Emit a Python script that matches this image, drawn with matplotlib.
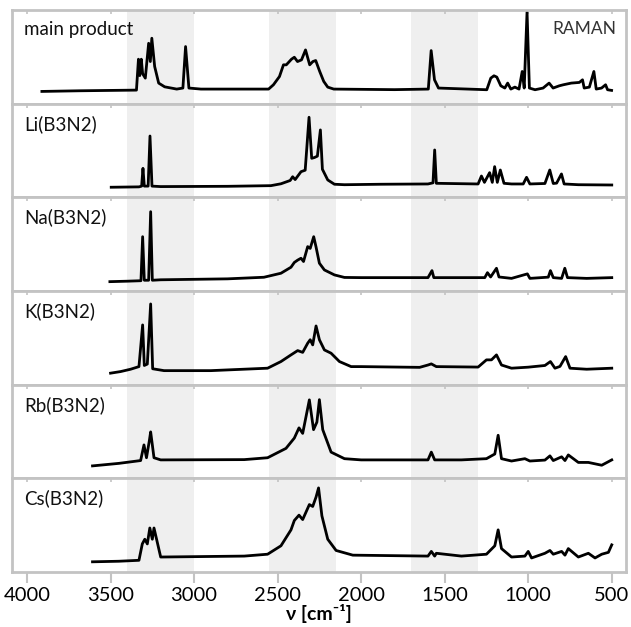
import matplotlib
matplotlib.use("Agg")
import matplotlib.pyplot as plt
import numpy as np

plt.rcParams['font.family'] = ['Lato', 'DejaVu Sans']

# wavenumbers (cm-1) and relative intensities (0-100 of panel height)
main_nu = [3911, 3682, 3345, 3333, 3325, 3316, 3308, 3292, 3272, 3262, 3253, 3236, 3212, 3176, 3104,
           3067, 3051, 3031, 2959, 2554, 2525, 2489, 2465, 2448, 2417, 2400, 2381, 2357, 2333, 2308,
           2289, 2272, 2248, 2224, 2200, 2164, 1800, 1598, 1581, 1561, 1537, 1248, 1224, 1205, 1188,
           1164, 1140, 1123, 1104, 1080, 1055, 1036, 1024, 1007, 993, 959, 911, 875, 851, 814, 790,
           742, 694, 675, 665, 634, 607, 593, 561, 537, 525, 501]
main_int = [13.1, 13.8, 14.5, 47.5, 30.0, 47.5, 32.0, 27.3, 64.5, 45.0, 69.9, 39.7, 22.0, 18.0, 15.6,
            16.7, 61.0, 16.7, 15.6, 15.6, 20.2, 29.0, 41.5, 41.5, 47.5, 49.6, 45.0, 46.8, 57.4, 41.5,
            45.0, 46.1, 34.4, 23.8, 17.7, 15.6, 15.0, 15.6, 56.7, 25.5, 16.7, 14.9, 27.3, 29.8, 28.4,
            19.1, 16.7, 22.0, 15.6, 17.7, 15.6, 34.4, 16.7, 98.2, 16.7, 14.9, 16.7, 22.0, 16.7, 19.1,
            20.2, 22.0, 22.7, 25.5, 16.7, 17.7, 34.4, 15.6, 16.7, 20.2, 14.9, 14.2]

li_nu = [3496, 3330, 3314, 3306, 3298, 3275, 3264, 3252, 3200, 2800, 2540, 2480, 2425, 2410, 2395,
         2360, 2335, 2312, 2296, 2280, 2262, 2244, 2232, 2200, 2160, 2100, 1881, 1600, 1570, 1560,
         1550, 1300, 1280, 1262, 1231, 1215, 1201, 1185, 1167, 1145, 1100, 1030, 1010, 990, 900,
         871, 850, 830, 801, 785, 700, 500]
li_int = [10.8, 11.2, 12.0, 31.0, 12.0, 12.0, 65.5, 12.0, 11.5, 11.8, 12.5, 14.5, 18.0, 22.0, 19.0,
          27.4, 29.0, 85.5, 41.7, 42.5, 44.0, 72.0, 30.0, 18.6, 14.0, 13.5, 14.0, 14.3, 15.5, 50.6,
          15.0, 14.3, 22.8, 16.0, 26.4, 16.0, 32.8, 16.0, 29.2, 15.0, 14.3, 14.3, 21.4, 14.3, 14.8,
          29.2, 14.8, 15.2, 25.0, 14.3, 13.5, 13.2]

na_nu = [3504, 3400, 3318, 3308, 3298, 3272, 3260, 3250, 3200, 2800, 2582, 2480, 2420, 2400, 2380,
         2360, 2345, 2320, 2305, 2284, 2270, 2250, 2220, 2160, 2100, 2000, 1600, 1576, 1565, 1260,
         1244, 1225, 1190, 1175, 1100, 1005, 990, 880, 867, 850, 800, 781, 765, 650, 500]
na_int = [10.0, 10.5, 11.0, 58.0, 11.5, 11.5, 84.7, 11.5, 12.0, 13.0, 14.7, 19.0, 25.4, 30.5, 33.0,
          35.0, 31.5, 47.4, 45.5, 58.0, 47.0, 29.7, 22.5, 17.2, 14.5, 14.3, 14.3, 21.8, 14.3, 14.3,
          19.6, 15.0, 24.3, 15.0, 13.5, 18.3, 13.5, 14.8, 21.8, 14.3, 13.5, 24.3, 14.3, 13.5, 14.3]

k_nu = [3500, 3440, 3380, 3330, 3308, 3298, 3280, 3260, 3248, 3180, 2900, 2560, 2480, 2420, 2380,
        2350, 2320, 2305, 2290, 2270, 2250, 2220, 2180, 2130, 2060, 2000, 1650, 1600, 1580, 1550,
        1300, 1250, 1220, 1190, 1160, 1100, 1000, 900, 867, 840, 810, 776, 750, 650, 500]
k_int = [12.3, 14.0, 16.5, 19.3, 63.8, 20.5, 22.0, 86.2, 17.0, 15.0, 15.0, 17.6, 24.7, 31.8, 36.4,
         34.5, 44.3, 48.0, 42.5, 62.7, 48.0, 37.1, 33.6, 24.7, 19.3, 19.3, 18.5, 21.0, 22.2, 19.3,
         18.8, 26.5, 26.5, 31.8, 21.0, 17.6, 18.7, 20.5, 24.7, 17.6, 19.5, 30.0, 17.6, 16.5, 17.6]

rb_nu = [3608, 3450, 3320, 3300, 3285, 3268, 3260, 3240, 3200, 2700, 2560, 2450, 2400, 2372,
         2350, 2310, 2285, 2265, 2250, 2230, 2180, 2100, 2000, 1600, 1580, 1560, 1400, 1250, 1200,
         1180, 1160, 1100, 1020, 990, 900, 870, 850, 800, 780, 760, 700, 640, 560, 500]
rb_int = [13.3, 16.0, 19.0, 35.7, 22.0, 40.0, 49.6, 22.0, 19.7, 20.0, 22.0, 32.0, 43.0, 53.9,
          48.0, 83.8, 52.0, 60.0, 84.0, 52.0, 28.0, 21.0, 19.7, 19.7, 28.0, 19.7, 19.7, 21.0, 26.0,
          46.0, 21.0, 18.5, 21.0, 18.5, 19.5, 24.0, 19.0, 23.0, 19.0, 25.0, 17.0, 17.0, 14.0, 19.7]

cs_nu = [3608, 3450, 3330, 3310, 3295, 3280, 3265, 3250, 3240, 3200, 2700, 2560, 2480, 2420,
         2400, 2372, 2350, 2310, 2290, 2270, 2255, 2235, 2200, 2150, 2050, 1600, 1580, 1560, 1550,
         1400, 1250, 1200, 1180, 1160, 1100, 1020, 1000, 980, 900, 870, 850, 800, 780, 760, 700,
         640, 600, 560, 520, 500]
cs_int = [10.9, 11.5, 12.5, 30.0, 35.0, 30.0, 47.0, 35.0, 47.0, 16.0, 17.0, 19.0, 28.0, 45.0,
          55.0, 60.7, 56.0, 72.0, 70.0, 80.0, 89.8, 60.0, 35.0, 23.0, 18.0, 17.0, 22.0, 17.0, 20.0,
          17.0, 19.0, 28.0, 45.0, 25.0, 16.0, 17.0, 22.0, 15.0, 20.0, 23.0, 19.0, 22.0, 18.0, 25.0,
          16.0, 20.0, 15.0, 19.0, 21.0, 29.0]

labels = ['main product', 'Li(B3N2)', 'Na(B3N2)', 'K(B3N2)', 'Rb(B3N2)', 'Cs(B3N2)']
spectra = [(main_nu, main_int), (li_nu, li_int), (na_nu, na_int),
           (k_nu, k_int), (rb_nu, rb_int), (cs_nu, cs_int)]
bands = [(3400, 3000), (2550, 2150), (1700, 1300)]
ticks = [4000, 3500, 3000, 2500, 2000, 1500, 1000, 500]

FRAME = '#c3c3c3'

fig, axes = plt.subplots(6, 1, figsize=(6.31, 6.27), dpi=100, sharex=True)
fig.subplots_adjust(left=0.019, right=0.992, top=0.984, bottom=0.0877, hspace=0)

for i, ax in enumerate(axes):
    for b0, b1 in bands:
        ax.axvspan(b1, b0, color='#efefef', lw=0, zorder=0)
    nu, inten = spectra[i]
    ax.plot(nu, inten, color='black', lw=2.0, solid_joinstyle='round', zorder=2)
    ax.set_ylim(0, 100)
    ax.set_yticks([])
    ax.text(0.02, 0.88, labels[i], transform=ax.transAxes, fontsize=13.5,
            va='top', ha='left', color='#111111')
    for sp in ax.spines.values():
        sp.set_color(FRAME)
        sp.set_linewidth(2.0)
    ax.tick_params(axis='x', top=True, bottom=False, direction='in', length=3,
                   width=1.2, color=FRAME, labelbottom=False)

axes[0].text(0.985, 0.88, 'RAMAN', transform=axes[0].transAxes, fontsize=12.5,
             va='top', ha='right', color='#333333')

ax = axes[-1]
ax.set_xlim(4090, 415)
ax.set_xticks(ticks)
ax.tick_params(axis='x', top=False, bottom=True, direction='out', length=8,
               width=1.5, color=FRAME, labelbottom=True, labelsize=14.5, pad=3)
top = ax.secondary_xaxis('top')
top.set_xticks(ticks)
top.tick_params(axis='x', direction='in', length=3, width=1.2, color=FRAME, labeltop=False)
top.spines['top'].set_visible(False)
ax.set_xlabel('ν [cm⁻¹]', fontsize=14, fontweight='bold', labelpad=0)

fig.savefig('out.png', dpi=100)
